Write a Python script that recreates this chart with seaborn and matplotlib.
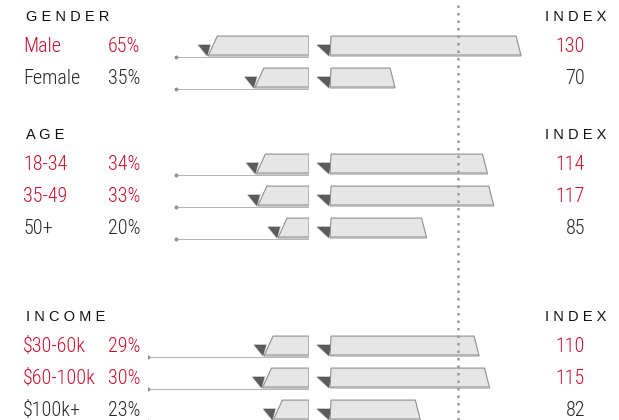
import matplotlib
matplotlib.use('Agg')
import matplotlib.pyplot as plt
from matplotlib.patches import Polygon
import pandas as pd
import seaborn as sns

# ---- data ----
groups = ['GENDER', 'AGE', 'INCOME']
row_group = ['GENDER', 'GENDER', 'AGE', 'AGE', 'AGE', 'INCOME', 'INCOME', 'INCOME']
labels = ['Male', 'Female', '18-34', '35-49', '50+', '$30-60k', '$60-100k', '$100k+']
share_pct = [65, 35, 34, 33, 20, 29, 30, 23]
index_vals = [130, 70, 114, 117, 85, 110, 115, 82]

# ---- style / layout ----
sns.set_theme(style='white')
NARROW = ['Nimbus Sans Narrow', 'Liberation Sans Narrow', 'Roboto Condensed',
          'Archivo Narrow', 'DejaVu Sans']
plt.rcParams['font.family'] = NARROW

RED = '#c8102e'
DARK = '#262626'
FILL = '#e6e6e6'
EDGE = '#8f8f8f'
W, H = 619, 420
PX_L = 1.55   # pixels per share point
PX_R = 2.1    # pixels per index point
BASE_R = 39   # index value at the start of the right-hand bars

header_y = {'GENDER': 17, 'AGE': 135, 'INCOME': 317}
line_start = {'GENDER': 86, 'AGE': 86, 'INCOME': 104}

df = pd.DataFrame({'group': row_group, 'label': labels,
                   'share': share_pct, 'index': index_vals})
df['pos'] = [header_y[g] + 29 + 32 * list(row_group[:i]).count(g)
             for i, g in enumerate(row_group)]

fig = plt.figure(figsize=(W / 100, H / 100), dpi=100)
fig.patch.set_facecolor('white')

ax_l = fig.add_axes([148 / W, 0, 161 / W, 1])
ax_r = fig.add_axes([330 / W, 0, 289 / W, 1])
ax_t = fig.add_axes([0, 0, 1, 1])

sns.barplot(data=df, x='share', y='pos', orient='y', native_scale=True,
            width=0.62, color=FILL, ax=ax_l)
sns.barplot(data=df, x='index', y='pos', orient='y', native_scale=True,
            width=0.62, color=FILL, ax=ax_r)

ax_l.set_xlim(161 / PX_L, 0)
ax_r.set_xlim(BASE_R, BASE_R + 289 / PX_R)
for ax in (ax_l, ax_r, ax_t):
    ax.set_ylim(H, 0)
    ax.axis('off')
    ax.patch.set_alpha(0)
ax_t.set_xlim(0, W)


def shadow(ax, pts, **kw):
    # dark wedge with a softer halo
    ax.add_patch(Polygon(pts, closed=True, fc='#9a9a9a', ec='#9a9a9a', lw=1.2,
                         alpha=0.45, zorder=2, **kw))
    ax.add_patch(Polygon(pts, closed=True, fc='#3f3f3f', ec='none', alpha=0.8,
                         zorder=2, **kw))


# left bars: grow to the left, slanted left end
for rect, g in zip(list(ax_l.patches), df['group']):
    x1 = rect.get_width()
    top, bot = rect.get_y(), rect.get_y() + rect.get_height()
    rect.set_visible(False)
    ax_l.hlines(bot + 1, line_start[g], 0, color='#b3b3b3', lw=0.7, zorder=1)
    ax_l.plot(line_start[g], bot + 1, 'o', ms=1.8, color='#909090', zorder=1)
    shadow(ax_l, [(x1 + 10 / PX_L, bot - 11), (x1 - 2 / PX_L, bot - 11), (x1 + 1 / PX_L, bot)])
    bar = [(0, top), (x1 - 9 / PX_L, top), (x1, bot), (0, bot)]
    ax_l.add_patch(Polygon(bar, closed=True, fc=FILL, ec=EDGE, lw=0.8, zorder=3))
    ax_l.hlines(bot - 1, x1 - 1 / PX_L, 0, color='#b5b5b5', lw=1.4, zorder=4)

# right bars: start at the base, slanted right end
for rect in list(ax_r.patches):
    x1 = rect.get_width()
    top, bot = rect.get_y(), rect.get_y() + rect.get_height()
    rect.set_visible(False)
    shadow(ax_r, [(BASE_R - 13 / PX_R, bot - 11), (BASE_R + 1 / PX_R, bot - 11),
                  (BASE_R - 1 / PX_R, bot)], clip_on=False)
    bar = [(BASE_R, bot), (BASE_R + 1 / PX_R, top), (x1 - 5 / PX_R, top), (x1, bot)]
    ax_r.add_patch(Polygon(bar, closed=True, fc=FILL, ec=EDGE, lw=0.8, zorder=3))
    ax_r.hlines(bot - 1, BASE_R + 1 / PX_R, x1 - 1 / PX_R, color='#b5b5b5', lw=1.4, zorder=4)

# index = 100 reference line
ax_r.axvline(100, color='#9a9a9a', lw=1.8, ls=(0, (1, 2)), zorder=5)

# headers
for g in groups:
    ax_t.text(26, header_y[g], ' '.join(g), va='center', ha='left', fontsize=10.5,
              family=['Liberation Sans', 'DejaVu Sans'], color='#111111')
    ax_t.text(606, header_y[g], ' '.join('INDEX'), va='center', ha='right', fontsize=10.5,
              family=['Liberation Sans', 'DejaVu Sans'], color='#111111')

# row labels
for _, r in df.iterrows():
    c = RED if r['index'] > 100 else DARK
    kw = dict(va='center', fontsize=14.5, fontweight='light', color=c, parse_math=False)
    ax_t.text(23, r['pos'], r['label'], ha='left', **kw)
    ax_t.text(108, r['pos'], f"{r['share']}%", ha='left', **kw)
    ax_t.text(585, r['pos'], str(r['index']), ha='right', **kw)

plt.savefig('out.png', dpi=100, facecolor='white')
plt.close()
